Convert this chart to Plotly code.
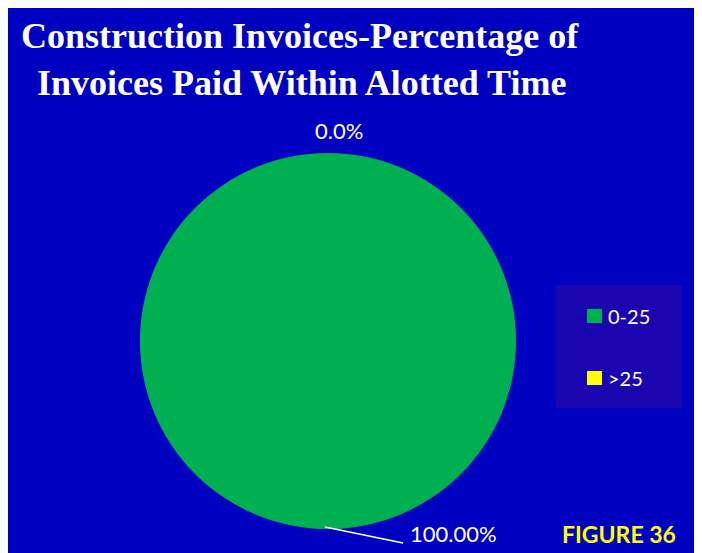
import plotly.graph_objects as go

# ---- data ----
categories = ["0-25", ">25"]
values = [100, 0]
colors = ["#00B050", "#FFFF00"]
label_texts = ["100.00%", "0.0%"]
title_lines = ["Construction Invoices-Percentage of", "Invoices Paid Within Alotted Time"]
figure_label = "FIGURE 36"

# page has an 8px body margin; the figure is placed at (8, 8)
OFF = 8
W, H = 702 - OFF, 553 - OFF
BG = "#0000C0"

def px(x):
    return (x - OFF) / W

def py(y):
    return 1 - (y - OFF) / H

fig = go.Figure()

# pie: center (328,341), radius 188 (screen pixels)
cx, cy, r = 328, 341, 188
fig.add_trace(go.Pie(
    labels=categories,
    values=values,
    marker=dict(colors=colors, line=dict(width=0)),
    textinfo="none",
    sort=False,
    direction="clockwise",
    rotation=0,
    showlegend=False,
    domain=dict(x=[px(cx - r), px(cx + r)], y=[py(cy + r), py(cy - r)]),
    hoverinfo="label+percent",
))

shapes = []
annotations = []

# blue background panel
shapes.append(dict(type="rect", xref="paper", yref="paper", layer="below",
                   x0=0, x1=px(697), y0=0, y1=1,
                   fillcolor=BG, line=dict(width=0)))

# title
title_font = dict(family="Liberation Serif", size=36, color="white")
annotations.append(dict(text="<b>%s</b>" % title_lines[0], x=px(300), y=py(36),
                        xref="paper", yref="paper", showarrow=False,
                        xanchor="center", yanchor="middle", font=title_font))
annotations.append(dict(text="<b>%s</b>" % title_lines[1], x=px(301), y=py(83),
                        xref="paper", yref="paper", showarrow=False,
                        xanchor="center", yanchor="middle", font=title_font))

# data labels
lab_font = dict(family="Lato", size=22, color="white")
annotations.append(dict(text=label_texts[1], x=px(339), y=py(130),
                        xref="paper", yref="paper", showarrow=False,
                        xanchor="center", yanchor="middle", font=lab_font))
shapes.append(dict(type="line", xref="paper", yref="paper",
                   x0=px(325), y0=py(527), x1=px(403), y1=py(543),
                   line=dict(color="white", width=1.5)))
annotations.append(dict(text=label_texts[0], x=px(408), y=py(533),
                        xref="paper", yref="paper", showarrow=False,
                        xanchor="left", yanchor="middle", font=lab_font))

# legend (manual)
shapes.append(dict(type="rect", xref="paper", yref="paper",
                   x0=px(556), x1=px(682), y0=py(408), y1=py(285),
                   fillcolor="#1A06B0", line=dict(width=0)))
leg_rows = [316, 378]
for cat, col, yy in zip(categories, colors, leg_rows):
    shapes.append(dict(type="rect", xref="paper", yref="paper",
                       x0=px(587), x1=px(602), y0=py(yy + 7), y1=py(yy - 7),
                       fillcolor=col, line=dict(width=0)))
    annotations.append(dict(text=cat, x=px(606), y=py(yy),
                            xref="paper", yref="paper", showarrow=False,
                            xanchor="left", yanchor="middle",
                            font=dict(family="Lato", size=20, color="white")))

# figure label
annotations.append(dict(text="<b>%s</b>" % figure_label, x=px(619), y=py(534),
                        xref="paper", yref="paper", showarrow=False,
                        xanchor="center", yanchor="middle",
                        font=dict(family="Lato", size=23, color="#FFFF00")))

fig.update_layout(
    width=W, height=H,
    margin=dict(l=0, r=0, t=0, b=0),
    paper_bgcolor="white",
    plot_bgcolor="white",
    shapes=shapes,
    annotations=annotations,
    showlegend=False,
)

fig.write_html("out.html")
